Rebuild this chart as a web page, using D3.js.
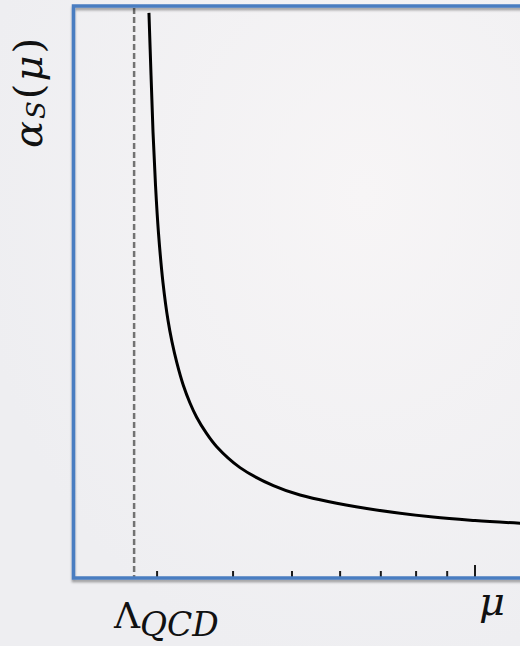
<!DOCTYPE html>
<html>
<head>
<meta charset="utf-8">
<script src="https://cdn.jsdelivr.net/npm/d3@7"></script>
<style>
  html, body { margin: 0; padding: 0; background: #f0f0f2; }
  svg { display: block; }
  text { font-family: "DejaVu Serif", serif; fill: #111; }
</style>
</head>
<body>
<div id="chart-wrapper"></div>
<script>
// Running coupling (mu on a log axis, alpha in plot units 0..1)
const muValues    = [2.909, 2.932, 2.954, 2.982, 3.016, 3.068, 3.127, 3.174, 3.232, 3.313, 3.398, 3.485, 3.611, 3.760, 4.107, 4.660, 5.155, 6.636, 8.530, 10.0, 12.13];
const alphaValues = [0.988, 0.879, 0.780, 0.687, 0.603, 0.516, 0.450, 0.413, 0.377, 0.337, 0.306, 0.281, 0.254, 0.2295, 0.193, 0.1614, 0.1451, 0.1215, 0.1066, 0.1005, 0.0950];

const lambdaQCD = 2.75;
const tickValues = [3, 4, 5, 6, 7, 8, 9, 10];
const majorTicks = [10];
const xDomain = [2.186, 12.13];
const yDomain = [0, 1];

const width = 520, height = 646;
const margin = { top: 6, right: -6, bottom: 68, left: 73.5 };

const svg = d3.select("#chart-wrapper").append("svg")
  .attr("width", width)
  .attr("height", height);

// soft background glow
const defs = svg.append("defs");
const glow = defs.append("radialGradient").attr("id", "bg-glow")
  .attr("cx", "70%").attr("cy", "30%").attr("r", "75%");
glow.append("stop").attr("offset", "0%").attr("stop-color", "#f7f5f6");
glow.append("stop").attr("offset", "100%").attr("stop-color", "#eeeef1");

const shadow = defs.append("filter").attr("id", "frame-shadow")
  .attr("x", "-5%").attr("y", "-5%").attr("width", "110%").attr("height", "110%");
shadow.append("feDropShadow")
  .attr("dx", 0).attr("dy", 2.5).attr("stdDeviation", 1.2)
  .attr("flood-color", "#000").attr("flood-opacity", 0.35);

svg.append("rect")
  .attr("width", width).attr("height", height)
  .attr("fill", "url(#bg-glow)");

const xScale = d3.scaleLog()
  .domain(xDomain)
  .range([margin.left, width - margin.right]);

const yScale = d3.scaleLinear()
  .domain(yDomain)
  .range([height - margin.bottom, margin.top]);

const x0 = xScale.range()[0], x1 = xScale.range()[1];
const yTop = yScale.range()[1], yBottom = yScale.range()[0];

// Lambda_QCD dashed line
svg.append("line")
  .attr("x1", xScale(lambdaQCD)).attr("x2", xScale(lambdaQCD))
  .attr("y1", yTop + 2).attr("y2", yBottom)
  .attr("stroke", "#727272")
  .attr("stroke-width", 2.5)
  .attr("stroke-dasharray", "6,3");

// tick marks (log axis, drawn inward from the bottom frame)
svg.append("g").selectAll("line")
  .data(tickValues)
  .join("line")
    .attr("x1", d => xScale(d)).attr("x2", d => xScale(d))
    .attr("y1", yBottom)
    .attr("y2", d => yBottom - (majorTicks.includes(d) ? 13 : 7))
    .attr("stroke", "#1a1a1a")
    .attr("stroke-width", 2);

// the curve
const line = d3.line()
  .x((d, i) => xScale(muValues[i]))
  .y(d => yScale(d))
  .curve(d3.curveCatmullRom.alpha(0.5));

svg.append("path")
  .attr("d", line(alphaValues))
  .attr("fill", "none")
  .attr("stroke", "#000")
  .attr("stroke-width", 3);

// blue frame
svg.append("rect")
  .attr("x", x0).attr("y", yTop)
  .attr("width", x1 - x0).attr("height", yBottom - yTop)
  .attr("fill", "none")
  .attr("stroke", "#4a7dc1")
  .attr("stroke-width", 3.5)
  .attr("filter", "url(#frame-shadow)");

// x labels
const lam = svg.append("text")
  .attr("x", 114).attr("y", 628)
  .attr("font-size", 36)
  .text("Λ");
lam.append("tspan")
  .attr("font-style", "italic")
  .attr("font-size", 33)
  .attr("dy", 8)
  .text("QCD");

svg.append("text")
  .attr("x", 479).attr("y", 615)
  .attr("font-size", 40)
  .attr("font-style", "italic")
  .text("μ");

// y label
const yl = svg.append("text")
  .attr("transform", "translate(42,148) rotate(-90)")
  .attr("font-size", 40)
  .attr("letter-spacing", 2)
  .attr("font-style", "italic")
  .text("α");
yl.append("tspan")
  .attr("font-size", 26)
  .attr("dy", 3)
  .text("S");
yl.append("tspan")
  .attr("dy", -3)
  .attr("font-style", "normal")
  .text("(");
yl.append("tspan")
  .text("μ");
yl.append("tspan")
  .attr("font-style", "normal")
  .text(")");
</script>
</body>
</html>
